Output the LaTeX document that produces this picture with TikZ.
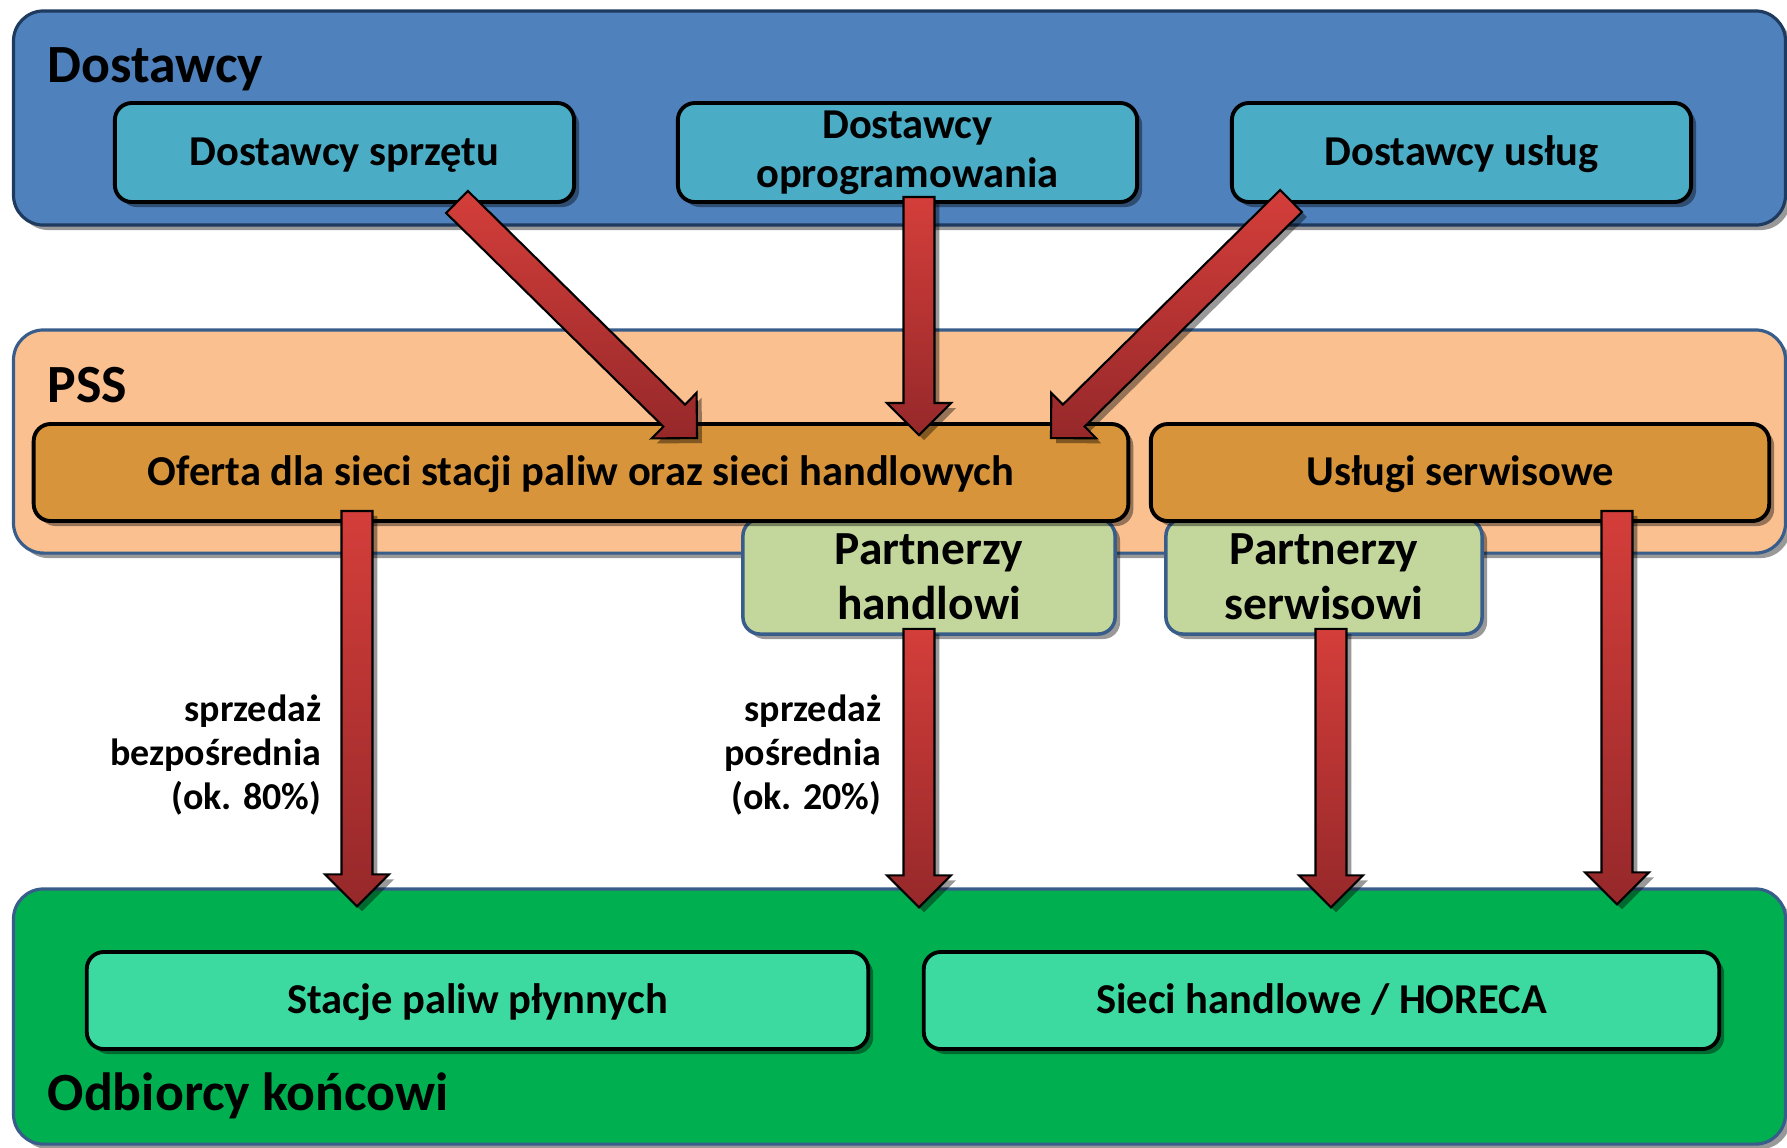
\documentclass[tikz,border=0pt]{standalone}
\usepackage{fontspec}
\setmainfont{Carlito}
\usepackage{tikz}
\usetikzlibrary{calc,shadows}
\definecolor{dostblue}{RGB}{79,129,189}
\definecolor{dostline}{RGB}{30,58,95}
\definecolor{dostteal}{RGB}{75,172,198}
\definecolor{psspeach}{RGB}{250,192,144}
\definecolor{groupline}{RGB}{56,93,138}
\definecolor{offerorange}{RGB}{216,148,58}
\definecolor{partnergreen}{RGB}{195,214,155}
\definecolor{odbgreen}{RGB}{0,176,80}
\definecolor{odbmint}{RGB}{60,218,160}
\definecolor{arrowtop}{RGB}{212,62,58}
\definecolor{arrowbot}{RGB}{150,40,42}

\tikzset{
    boxshadow/.style={drop shadow={shadow xshift=0.05cm,shadow yshift=-0.05cm,fill=black,opacity=0.4}},
    group/.style={line width=0.9pt, rounded corners=0.3cm, boxshadow, minimum width=17.71cm},
    grouptitle/.style={anchor=base west, inner sep=0pt, font=\bfseries\fontsize{15.3}{18}\selectfont},
    unit/.style={draw=black, line width=1.1pt, rounded corners=0.17cm, boxshadow, align=center,
        inner sep=0pt, minimum height=0.97cm, font=\bfseries\fontsize{12.1}{14}\selectfont},
    oneline/.style={text height=10.5pt, text depth=3pt},
    partner/.style={draw=groupline, line width=1pt, fill=partnergreen, rounded corners=0.17cm, boxshadow,
        align=center, inner sep=0pt, minimum height=1.15cm, font=\bfseries\fontsize{13.5}{15.6}\selectfont},
    share/.style={anchor=east, align=right, inner sep=0pt, font=\bfseries\fontsize{10.8}{12.6}\selectfont},
    flow/.style={draw=black, line width=0.6pt, top color=arrowtop, bottom color=arrowbot, boxshadow}
}

% block arrow: tail, tip
\newcommand{\flowarrow}[2]{%
    \coordinate (fa-h) at ($(#2)!9.1pt!(#1)$);
    \draw[flow] ($(#1)!4.4pt!90:(#2)$) -- ($(fa-h)!4.4pt!90:(#2)$) -- ($(fa-h)!9.1pt!90:(#2)$) -- (#2)
        -- ($(fa-h)!9.1pt!-90:(#2)$) -- ($(fa-h)!4.4pt!-90:(#2)$) -- ($(#1)!4.4pt!-90:(#2)$) -- cycle;
}

\begin{document}
\begin{tikzpicture}[x=0.01cm, y=-0.01cm]
    \useasboundingbox (0,0) rectangle (1787,1147);

    % Dostawcy
    \node[group, draw=dostline, fill=dostblue, minimum height=2.14cm] (dost) at (899.5,118) {};
    \node[grouptitle] (dosttitle) at (47,82) {Dostawcy};
    \node[unit, oneline, fill=dostteal, minimum width=4.59cm, minimum height=0.99cm] (sprzet) at (344.5,152.5) {Dostawcy sprzętu};
    \node[unit, fill=dostteal, minimum width=4.59cm, minimum height=0.99cm] (oprog) at (907.5,152.5) {Dostawcy\\oprogramowania};
    \node[unit, oneline, fill=dostteal, minimum width=4.59cm, minimum height=0.99cm] (uslugi) at (1461.5,152.5) {Dostawcy usług};

    % PSS
    \node[group, draw=groupline, fill=psspeach, minimum height=2.23cm] (pss) at (899.5,441.5) {};
    \node[grouptitle] (psstitle) at (47,402) {PSS};
    \node[partner, minimum width=3.72cm] (parth) at (929,576.5) {Partnerzy\\handlowi};
    \node[partner, minimum width=3.16cm] (parts) at (1324,576.5) {Partnerzy\\serwisowi};
    \node[unit, oneline, fill=offerorange, minimum width=10.94cm] (oferta) at (581,472.5) {Oferta dla sieci stacji paliw oraz sieci handlowych};
    \node[unit, oneline, fill=offerorange, minimum width=6.18cm] (serwis) at (1460,472.5) {Usługi serwisowe};

    % Odbiorcy koncowi
    \node[group, draw=groupline, fill=odbgreen, minimum height=2.55cm] (odb) at (899.5,1016.5) {};
    \node[grouptitle] (odbtitle) at (47,1110) {Odbiorcy końcowi};
    \node[unit, oneline, fill=odbmint, minimum width=7.81cm] (stacje) at (477.5,1000.5) {Stacje paliw płynnych};
    \node[unit, oneline, fill=odbmint, minimum width=7.95cm] (sieci) at (1321.5,1000.5) {Sieci handlowe / HORECA};

    % sales labels
    \node[share] (direct) at (322,755) {sprzedaż\\bezpośrednia\\(ok. 80\%)};
    \node[share] (indirect) at (882,755) {sprzedaż\\pośrednia\\(ok. 20\%)};

    % arrow ends
    \coordinate (a1s) at ($(sprzet.south)+(112.5,-2)$);
    \coordinate (a1e) at ($(oferta.north)+(116,16)$);
    \coordinate (a2s) at ($(oprog.south)+(11.5,-7)$);
    \coordinate (a2e) at ($(a2s |- oferta.north)+(0,13)$);
    \coordinate (a3s) at ($(uslugi.south)+(-170.5,-3)$);
    \coordinate (a3e) at ($(oferta.north)+(470,16)$);
    \coordinate (a4s) at ($(oferta.south)+(-224,-12)$);
    \coordinate (a4e) at ($(a4s |- odb.north)+(0,19)$);
    \coordinate (a5s) at ($(parth.south)+(-10,-7)$);
    \coordinate (a5e) at ($(a5s |- odb.north)+(0,20)$);
    \coordinate (a6s) at ($(parts.south)+(7,-7)$);
    \coordinate (a6e) at ($(a6s |- odb.north)+(0,20)$);
    \coordinate (a7s) at ($(serwis.south)+(157,-12)$);
    \coordinate (a7e) at ($(a7s |- odb.north)+(0,17)$);

    \flowarrow{a1s}{a1e}
    \flowarrow{a2s}{a2e}
    \flowarrow{a3s}{a3e}
    \flowarrow{a4s}{a4e}
    \flowarrow{a5s}{a5e}
    \flowarrow{a6s}{a6e}
    \flowarrow{a7s}{a7e}

\end{tikzpicture}
\end{document}
